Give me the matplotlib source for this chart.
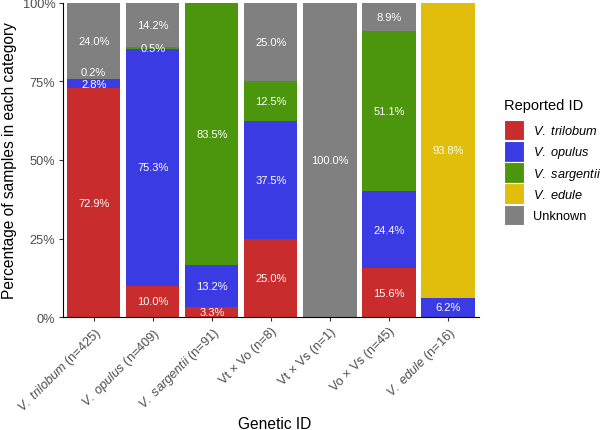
import numpy as np
import matplotlib
matplotlib.use('Agg')
import matplotlib.pyplot as plt
from matplotlib.patches import Patch

plt.rcParams['font.family'] = ['Liberation Sans', 'DejaVu Sans']
plt.rcParams['mathtext.fontset'] = 'custom'
plt.rcParams['mathtext.rm'] = 'Liberation Sans'
plt.rcParams['mathtext.it'] = 'Liberation Sans:italic'

# genetic ID categories (x axis)
categories = [r'$\it{V.\ trilobum}$ (n=425)', r'$\it{V.\ opulus}$ (n=409)',
              r'$\it{V.\ sargentii}$ (n=91)', 'Vt × Vo (n=8)', 'Vt × Vs (n=1)',
              'Vo × Vs (n=45)', r'$\it{V.\ edule}$ (n=16)']

# reported ID series, percent of samples
trilobum = [72.9, 10.0, 3.3, 25.0, 0.0, 15.6, 0.0]
opulus = [2.8, 75.3, 13.2, 37.5, 0.0, 24.4, 6.2]
sargentii = [0.2, 0.5, 83.5, 12.5, 0.0, 51.1, 0.0]
edule = [0.0, 0.0, 0.0, 0.0, 0.0, 0.0, 93.8]
unknown = [24.0, 14.2, 0.0, 25.0, 100.0, 8.9, 0.0]

series = [trilobum, opulus, sargentii, edule, unknown]
series_names = [r'$\it{V.\ trilobum}$', r'$\it{V.\ opulus}$', r'$\it{V.\ sargentii}$',
                r'$\it{V.\ edule}$', 'Unknown']
colors = ['#C82C2C', '#3B3BE3', '#4C960E', '#E1BD0C', '#808080']

# nudge for labels that would collide (category index, series index) -> points
nudge = {(0, 2): 5, (0, 1): -0.5}

fig = plt.figure(figsize=(6.06, 4.31), dpi=100)
ax = fig.add_axes([0.104, 0.262, 0.686, 0.729])

x = np.arange(len(categories))
bottom = np.zeros(len(categories))
for i, (vals, col) in enumerate(zip(series, colors)):
    v = np.array(vals) / 100.0
    ax.bar(x, v, width=0.9, bottom=bottom, color=col, linewidth=0)
    for j in range(len(x)):
        if vals[j] > 0:
            ax.annotate('%.1f%%' % vals[j], (x[j], bottom[j] + v[j] / 2),
                        xytext=(0, nudge.get((j, i), 0)), textcoords='offset points',
                        ha='center', va='center', color='white', fontsize=8)
    bottom += v

ax.set_xlim(-0.52, len(categories) - 0.48)
ax.set_ylim(0, 1)
ax.set_yticks([0, 0.25, 0.5, 0.75, 1.0])
ax.set_yticklabels(['0%', '25%', '50%', '75%', '100%'], fontsize=9.2, color='#4D4D4D')
ax.set_xticks(x)
ax.set_xticklabels(categories, rotation=45, ha='right', rotation_mode='anchor',
                   fontsize=9.2, color='#4D4D4D')
ax.tick_params(length=3, color='#333333', pad=2.5)
for s in ['top', 'right']:
    ax.spines[s].set_visible(False)
ax.set_ylabel('Percentage of samples in each category', fontsize=11.2)
ax.set_xlabel('Genetic ID', fontsize=11.2)
ax.yaxis.set_label_coords(-0.11, 0.5)
ax.xaxis.set_label_coords(0.51, -0.315)

handles = [Patch(facecolor=c, edgecolor='white', linewidth=0.8) for c in colors]
leg = fig.legend(handles, series_names, title='Reported ID', loc='upper left',
                 bbox_to_anchor=(0.832, 0.770), frameon=False, fontsize=9.2,
                 title_fontsize=10.5, handlelength=1.55, handleheight=2.1,
                 handletextpad=0.7, labelspacing=0.05, borderpad=0, borderaxespad=0)
leg._legend_box.align = 'left'
leg._legend_box.sep = 5.5

fig.savefig('out.png', dpi=100)
